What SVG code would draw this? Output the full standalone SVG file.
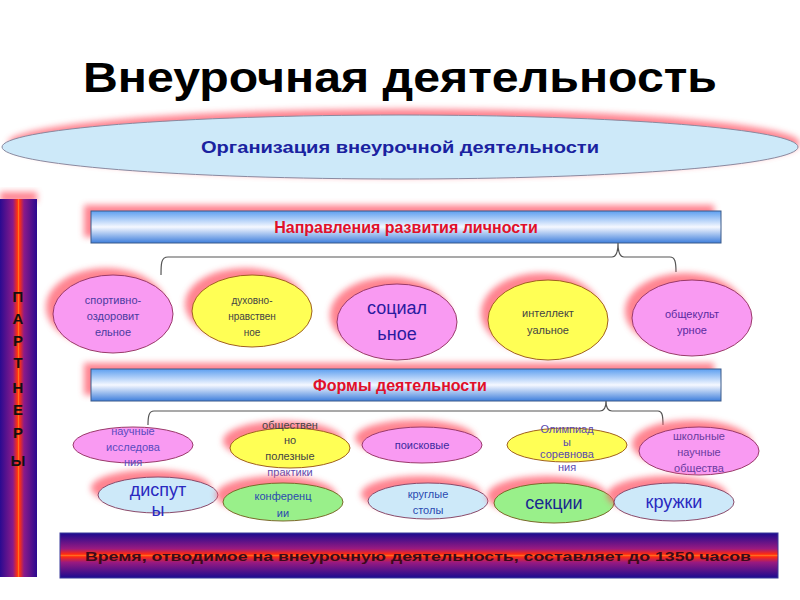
<svg xmlns="http://www.w3.org/2000/svg" width="800" height="600" viewBox="0 0 800 600">
<defs>
<filter id="blur" x="-20%" y="-50%" width="140%" height="200%"><feGaussianBlur stdDeviation="3"/></filter>
<linearGradient id="barGrad" x1="0" y1="0" x2="0" y2="1">
<stop offset="0" stop-color="#5d9ff0"/><stop offset="0.5" stop-color="#f5f8ff"/><stop offset="1" stop-color="#3f7fdc"/>
</linearGradient>
<linearGradient id="sideGrad" x1="0" y1="0" x2="1" y2="0">
<stop offset="0" stop-color="#2a0a90"/><stop offset="0.35" stop-color="#8a1a8a"/><stop offset="0.47" stop-color="#ff3010"/><stop offset="0.5" stop-color="#ff7020"/><stop offset="0.53" stop-color="#ff3010"/><stop offset="0.65" stop-color="#8a1a8a"/><stop offset="1" stop-color="#2a0a90"/>
</linearGradient>
<linearGradient id="botGrad" x1="0" y1="0" x2="0" y2="1">
<stop offset="0" stop-color="#1a0a90"/><stop offset="0.35" stop-color="#9a1a80"/><stop offset="0.47" stop-color="#ff2a10"/><stop offset="0.5" stop-color="#ff6a20"/><stop offset="0.53" stop-color="#ff2a10"/><stop offset="0.65" stop-color="#9a1a80"/><stop offset="1" stop-color="#1a0a90"/>
</linearGradient>
</defs>
<style>
.f{font-family:"Liberation Sans",Arial,sans-serif;}
.sh{fill:#ff5a6a;opacity:0.75;filter:url(#blur);}
.pink{fill:#f99af2;stroke:#9a3a6a;stroke-width:1;}
.yel{fill:#ffff55;stroke:#a06020;stroke-width:1;}
.blue{fill:#cde9f9;stroke:#8a4a6a;stroke-width:1;}
.green{fill:#99f08a;stroke:#7a6a2a;stroke-width:1;}
.bar{fill:url(#barGrad);stroke:#3a5a8a;stroke-width:1;}
.bt{font-size:16px;font-weight:bold;fill:#e0102a;text-anchor:middle;}
.sm{font-size:11px;text-anchor:middle;}
.lg{font-size:18px;text-anchor:middle;}
.conn{fill:none;stroke:#555;stroke-width:1.2;}
</style>
<rect width="800" height="600" fill="#fff"/>

<g id="title">
<text class="f" x="400" y="92" font-size="42" font-weight="bold" text-anchor="middle" fill="#000" textLength="634" lengthAdjust="spacingAndGlyphs">Внеурочная деятельность</text>
</g>

<g id="org">
<ellipse cx="404" cy="143" rx="396" ry="34" class="sh"/>
<ellipse cx="400" cy="147" rx="398" ry="32" fill="#cde9f9" stroke="#8a8aa0" stroke-width="1"/>
<text class="f" x="400" y="153" font-size="17" font-weight="bold" fill="#1a22a0" text-anchor="middle" textLength="398" lengthAdjust="spacingAndGlyphs">Организация внеурочной деятельности</text>
</g>

<g id="partners">
<rect x="0" y="192" width="37" height="10" class="sh"/>
<rect x="0" y="199" width="37" height="378" fill="url(#sideGrad)"/>
<g class="f" font-size="15" font-weight="bold" fill="#111" text-anchor="middle">
<text x="18" y="302">П</text><text x="18" y="324">А</text><text x="18" y="346">Р</text><text x="18" y="368">Т</text><text x="18" y="393">Н</text><text x="18" y="415">Е</text><text x="18" y="438">Р</text><text x="18" y="466">Ы</text>
</g>
</g>

<g id="directions">
<rect x="84" y="205" width="630" height="32" class="sh"/>
<rect x="91" y="211" width="630" height="32" class="bar"/>
<text class="f bt" x="406" y="233">Направления развития личности</text>
</g>

<g id="forms">
<rect x="84" y="363" width="630" height="32" class="sh"/>
<rect x="91" y="369" width="630" height="32" class="bar"/>
<text class="f bt" x="400" y="391">Формы деятельности</text>
</g>

<g id="connectors">
<path class="conn" d="M161,275 C161,264 161,257 168,257 L612,257 C616,257 618,252 618,243 C618,252 620,257 624,257 L670,257 C675,257 676,262 676,272"/>
<path class="conn" d="M148,425 C148,416 149,411 154,411 L600,411 C604,411 606,407 606,401 C606,407 608,411 612,411 L658,411 C662,411 663,415 663,425"/>
</g>

<g id="n-sport">
<ellipse cx="106" cy="307" rx="60" ry="39" class="sh"/>
<ellipse cx="113" cy="314" rx="60" ry="39" class="pink"/>
<g class="f sm" fill="#4a3aa0"><text x="113" y="304">спортивно-</text><text x="113" y="320">оздоровит</text><text x="113" y="336">ельное</text></g>
</g>
<g id="n-spirit">
<ellipse cx="245" cy="304" rx="60" ry="36" class="sh"/>
<ellipse cx="252" cy="311" rx="60" ry="36" class="yel"/>
<g class="f" font-size="10" text-anchor="middle" fill="#444"><text x="252" y="304">духовно-</text><text x="252" y="320">нравствен</text><text x="252" y="336">ное</text></g>
</g>
<g id="n-social">
<ellipse cx="390" cy="315" rx="60" ry="38" class="sh"/>
<ellipse cx="397" cy="322" rx="60" ry="38" class="pink"/>
<g class="f lg" fill="#2a1aa0"><text x="397" y="314">социал</text><text x="397" y="340">ьное</text></g>
</g>
<g id="n-intel">
<ellipse cx="541" cy="313" rx="60" ry="40" class="sh"/>
<ellipse cx="548" cy="320" rx="60" ry="40" class="yel"/>
<g class="f sm" fill="#444"><text x="548" y="317">интеллект</text><text x="548" y="334">уальное</text></g>
</g>
<g id="n-culture">
<ellipse cx="685" cy="311" rx="60" ry="38" class="sh"/>
<ellipse cx="692" cy="318" rx="60" ry="38" class="pink"/>
<g class="f sm" fill="#5a2aa0"><text x="692" y="318">общекульт</text><text x="692" y="334">урное</text></g>
</g>

<g id="n-research">
<ellipse cx="133" cy="445" rx="60" ry="18" class="pink"/>
<g class="f sm" fill="#5a4ac0"><text x="133" y="435">научные</text><text x="133" y="451">исследова</text><text x="133" y="466">ния</text></g>
</g>
<g id="n-practice">
<ellipse cx="283" cy="441" rx="60" ry="20" class="sh"/>
<ellipse cx="290" cy="448" rx="60" ry="20" class="yel"/>
<g class="f sm" fill="#444"><text x="290" y="429">обществен</text><text x="290" y="444">но</text><text x="290" y="460">полезные</text><text x="290" y="476" fill="#5a4ab0">практики</text></g>
</g>
<g id="n-search">
<ellipse cx="415" cy="438" rx="60" ry="18" class="sh"/>
<ellipse cx="422" cy="445" rx="60" ry="18" class="pink"/>
<text class="f sm" x="422" y="449" fill="#3a2aa0">поисковые</text>
</g>
<g id="n-olymp">
<ellipse cx="567" cy="445" rx="60" ry="17" class="yel"/>
<g class="f sm" fill="#5a4ab0"><text x="567" y="433">Олимпиад</text><text x="567" y="446">ы</text><text x="567" y="458">соревнова</text><text x="567" y="471">ния</text></g>
</g>
<g id="n-school">
<ellipse cx="692" cy="444" rx="60" ry="24" class="sh"/>
<ellipse cx="699" cy="451" rx="60" ry="24" class="pink"/>
<g class="f sm" fill="#6a3aa0"><text x="699" y="440">школьные</text><text x="699" y="456">научные</text><text x="699" y="472">общества</text></g>
</g>

<g id="n-disput">
<ellipse cx="151" cy="488" rx="60" ry="18" class="sh"/>
<ellipse cx="158" cy="495" rx="60" ry="18" class="blue"/>
<g class="f lg" fill="#2a2ac0"><text x="158" y="496">диспут</text><text x="158" y="516">ы</text></g>
</g>
<g id="n-conf">
<ellipse cx="276" cy="495" rx="60" ry="19" class="sh"/>
<ellipse cx="283" cy="502" rx="60" ry="19" class="green"/>
<g class="f sm" fill="#2a4ab0"><text x="283" y="500">конференц</text><text x="283" y="517">ии</text></g>
</g>
<g id="n-round">
<ellipse cx="421" cy="494" rx="60" ry="18" class="sh"/>
<ellipse cx="428" cy="501" rx="60" ry="18" class="blue"/>
<g class="f sm" fill="#2a4ab0"><text x="428" y="498">круглые</text><text x="428" y="514">столы</text></g>
</g>
<g id="n-sections">
<ellipse cx="547" cy="496" rx="60" ry="20" class="sh"/>
<ellipse cx="554" cy="503" rx="60" ry="20" class="green"/>
<text class="f lg" x="554" y="509" fill="#1a2a90">секции</text>
</g>
<g id="n-clubs">
<ellipse cx="667" cy="495" rx="60" ry="19" class="sh"/>
<ellipse cx="674" cy="502" rx="60" ry="19" class="blue"/>
<text class="f lg" x="674" y="508" fill="#2a2ac0">кружки</text>
</g>

<g id="time">
<rect x="60" y="533" width="718" height="45" fill="url(#botGrad)" stroke="#3a3a9a" stroke-width="1"/>
<text class="f" x="418" y="561" font-size="13" font-weight="bold" fill="#3a0a1a" text-anchor="middle" textLength="666" lengthAdjust="spacingAndGlyphs">Время, отводимое на внеурочную деятельность, составляет до 1350 часов</text>
</g>
</svg>
